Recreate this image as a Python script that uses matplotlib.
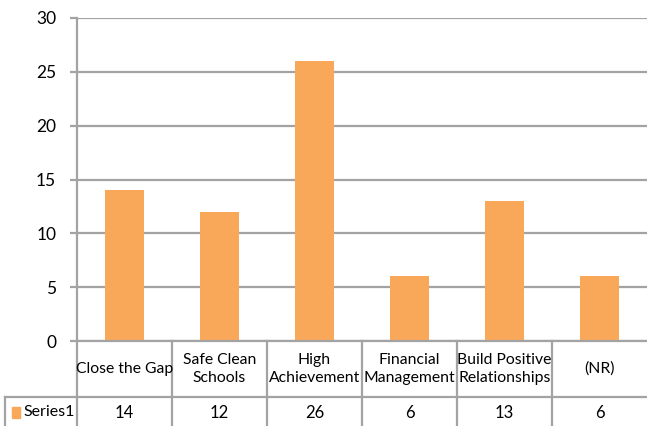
import matplotlib
matplotlib.use("Agg")
import matplotlib.pyplot as plt
import numpy as np

plt.rcParams['font.family'] = ['Lato', 'DejaVu Sans']

categories = ["Close the Gap", "Safe Clean\nSchools", "High\nAchievement",
              "Financial\nManagement", "Build Positive\nRelationships", "(NR)"]
values = [14, 12, 26, 6, 13, 6]
series_name = "Series1"
yticks = [0, 5, 10, 15, 20, 25, 30]

bar_color = "#F9A85A"
grid_color = "#A3A3A3"

W, H = 647, 426
fig = plt.figure(figsize=(W / 100, H / 100), dpi=100)

# main plot area (pixel layout)
left, right, top, bottom = 77, 647, 18, 341
ax = fig.add_axes([left / W, (H - bottom) / H, (right - left) / W, (bottom - top) / H])
x = np.arange(len(values))
ax.bar(x, values, width=0.41, color=bar_color, zorder=3)
ax.set_xlim(-0.5, len(values) - 0.5)
ax.set_ylim(0, 30)
ax.set_yticks(yticks)
ax.set_xticks([])
ax.yaxis.grid(True, color=grid_color, linewidth=1.6, zorder=0)
for s in ["top", "right", "bottom"]:
    ax.spines[s].set_visible(False)
ax.spines["left"].set_color(grid_color)
ax.spines["left"].set_linewidth(1.6)
ax.tick_params(axis="y", length=5, width=1.6, color=grid_color, pad=10,
               labelsize=12.5, labelcolor="black")

# data table below the plot
tab_h = H - bottom
tax = fig.add_axes([left / W, 0, (right - left) / W, tab_h / H])
tax.set_xlim(-0.5, len(values) - 0.5)
tax.set_ylim(0, tab_h)
tax.axis("off")
row_line = H - 397  # boundary between category row and value row
unit = (right - left) / len(values)  # pixels per category
first_left = -0.5 - (left - 5) / unit

lw = 1.6
tax.plot([-0.5, len(values) - 0.5], [tab_h, tab_h], color=grid_color, lw=lw, clip_on=False)
tax.plot([first_left, len(values) - 0.5], [row_line, row_line], color=grid_color, lw=lw, clip_on=False)
for i in range(len(values)):
    tax.plot([i - 0.5, i - 0.5], [0, tab_h], color=grid_color, lw=lw, clip_on=False)
tax.plot([first_left, first_left], [0, row_line], color=grid_color, lw=lw, clip_on=False)

for i, (c, v) in enumerate(zip(categories, values)):
    tax.text(i, (tab_h + row_line) / 2, c, ha="center", va="center", fontsize=11.3,
             linespacing=1.45, color="black")
    tax.text(i, row_line / 2 - 1, str(v), ha="center", va="center", fontsize=12, color="black")

# legend key + series name in the first cell
tax.add_patch(plt.Rectangle((first_left + 7 / unit, row_line / 2 - 6), 8 / unit, 11,
                            color=bar_color, clip_on=False))
tax.text(first_left + 18 / unit, row_line / 2 - 1, series_name, ha="left", va="center",
         fontsize=11.5, color="black")

fig.savefig("out.png", dpi=100)
